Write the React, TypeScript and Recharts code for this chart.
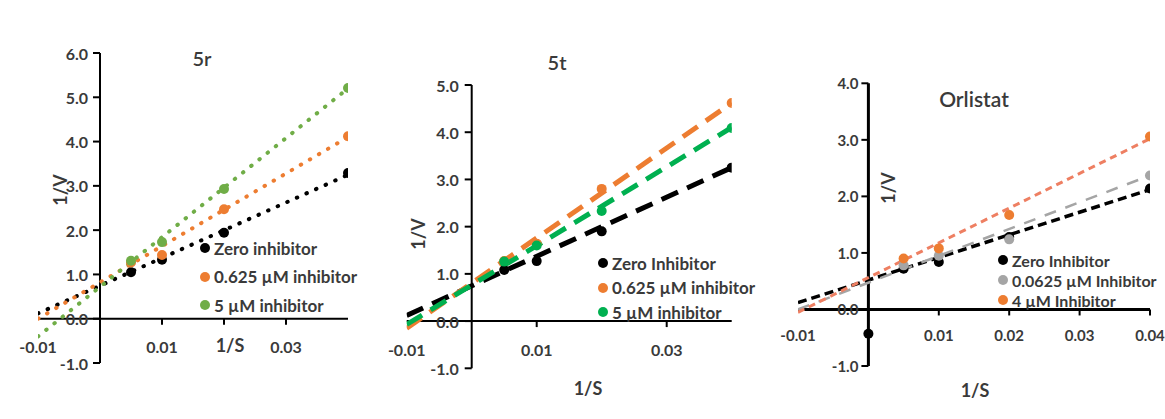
import React from 'react';
import { ComposedChart, Line, Scatter, XAxis, YAxis, ReferenceLine, ReferenceDot, Legend } from 'recharts';

const FONT = 'Lato, "Open Sans", sans-serif';
const TXT = '#3a3a3a';

// ---------- data ----------
const trendX = [-0.01, 0.04];

// 5r
const r5X = [0.005, 0.01, 0.02, 0.04];
const r5Zero = [1.05, 1.33, 1.94, 3.29];
const r5Low = [1.27, 1.44, 2.47, 4.12];
const r5High = [1.31, 1.73, 2.93, 5.21];
const r5ZeroTrend = [0.12, 3.25];
const r5LowTrend = [0.0, 4.1];
const r5HighTrend = [-0.4, 5.2];

// 5t
const t5X = [0.005, 0.01, 0.02, 0.04];
const t5Zero = [1.08, 1.27, 1.9, 3.25];
const t5Low = [1.27, 1.64, 2.8, 4.62];
const t5High = [1.26, 1.6, 2.33, 4.09];
const t5ZeroTrend = [0.12, 3.25];
const t5LowTrend = [-0.15, 4.62];
const t5HighTrend = [-0.07, 4.1];

// Orlistat
const oZeroX = [0, 0.005, 0.01, 0.02, 0.04];
const oZero = [-0.43, 0.72, 0.84, 1.28, 2.14];
const oLowX = [0.005, 0.01, 0.02, 0.04];
const oLow = [0.78, 0.95, 1.24, 2.37];
const oHighX = [0.005, 0.01, 0.02, 0.04];
const oHigh = [0.9, 1.08, 1.67, 3.06];
const oZeroTrend = [0.12, 2.12];
const oLowTrend = [0.0, 2.37];
const oHighTrend = [-0.05, 3.02];

const r5Labels = ['Zero inhibitor', '0.625 µM inhibitor', '5 µM inhibitor'];
const t5Labels = ['Zero Inhibitor', '0.625 µM inhibitor', '5 µM inhibitor'];
const oLabels = ['Zero Inhibitor', '0.0625 µM Inhibitor', '4 µM Inhibitor'];

const r5YTicks = [-1, 0, 1, 2, 3, 4, 5, 6];
const t5YTicks = [-1, 0, 1, 2, 3, 4, 5];
const oYTicks = [-1, 0, 1, 2, 3, 4];
const r5XLabels = [-0.01, 0.01, 0.03];
const t5XLabels = [-0.01, 0.01, 0.03];
const oXLabels = [-0.01, 0.01, 0.02, 0.03, 0.04];
const r5XMarks = [0.01, 0.02, 0.03];
const t5XMarks = [0.01, 0.03];
const oXMarks = [0.01, 0.02, 0.03, 0.04];

const pts = (xs: number[], ys: number[]) => xs.map((x, i) => ({ x, y: ys[i] }));

type Series = {
  name: string;
  color: string;
  lineColor: string;
  points: { x: number; y: number }[];
  trend: { x: number; y: number }[];
  dash: string;
  width: number;
  cap: 'round' | 'butt';
};

type PanelProps = {
  left: number;
  width: number;
  margin: { top: number; left: number; right: number; bottom: number };
  yDomain: [number, number];
  yTicks: number[];
  xLabels: number[];
  xMarks: number[];
  series: Series[];
  axisWidth: number;
  tickFont: number;
  yLabelOff: number;
  xLabelOff: number;
  legendPos: { left: number; top: number; row: number; font: number };
  dotR: number;
};

function Panel(p: PanelProps) {
  const yTickShape = (v: number) => (s: any) => (
    <g>
      <line x1={s.cx - 7} x2={s.cx} y1={s.cy} y2={s.cy} stroke="#000" strokeWidth={2} />
      <text x={s.cx - p.yLabelOff} y={s.cy} textAnchor="end" dominantBaseline="central"
        fontFamily={FONT} fontWeight={700} fontSize={p.tickFont} fill={TXT}>{v.toFixed(1)}</text>
    </g>
  );
  const xMarkShape = () => (s: any) => (
    <line x1={s.cx} x2={s.cx} y1={s.cy} y2={s.cy + 6} stroke="#000" strokeWidth={2} />
  );
  const xLabelShape = (v: number) => (s: any) => (
    <text x={s.cx} y={s.cy + p.xLabelOff} textAnchor="middle" dominantBaseline="central"
      fontFamily={FONT} fontWeight={700} fontSize={p.tickFont} fill={TXT}>{v.toFixed(2)}</text>
  );
  const legendContent = () => (
    <div style={{ fontFamily: FONT, fontWeight: 700, fontSize: p.legendPos.font, color: TXT, whiteSpace: 'nowrap' }}>
      {p.series.map((s) => (
        <div key={s.name} style={{ height: p.legendPos.row, display: 'flex', alignItems: 'center' }}>
          <span style={{ display: 'inline-block', width: 10, height: 10, borderRadius: 5, background: s.color, marginRight: 4 }} />
          {s.name}
        </div>
      ))}
    </div>
  );
  return (
    <div style={{ position: 'absolute', left: p.left, top: 0 }}>
      <ComposedChart width={p.width} height={419} margin={p.margin}>
        <XAxis type="number" dataKey="x" domain={[-0.01, 0.04]} hide allowDataOverflow />
        <YAxis type="number" dataKey="y" domain={p.yDomain} hide allowDataOverflow />
        <ReferenceLine x={0} stroke="#000" strokeWidth={p.axisWidth} />
        <ReferenceLine y={0} stroke="#000" strokeWidth={p.axisWidth} />
        {p.yTicks.map((v) => (
          <ReferenceDot key={'y' + v} x={0} y={v} r={0} shape={yTickShape(v)} />
        ))}
        {p.xMarks.map((v) => (
          <ReferenceDot key={'xm' + v} x={v} y={0} r={0} shape={xMarkShape()} />
        ))}
        {p.xLabels.map((v) => (
          <ReferenceDot key={'xl' + v} x={v} y={0} r={0} shape={xLabelShape(v)} />
        ))}
        {p.series.map((s) => (
          <Line key={'t' + s.name} data={s.trend} dataKey="y" stroke={s.lineColor} strokeWidth={s.width}
            strokeDasharray={s.dash} strokeLinecap={s.cap} dot={false} activeDot={false}
            legendType="none" isAnimationActive={false} />
        ))}
        {p.series.map((s) => (
          <Scatter key={'s' + s.name} name={s.name} data={s.points} dataKey="y" fill={s.color}
            shape={(d: any) => <circle cx={d.cx} cy={d.cy} r={p.dotR} fill={s.color} />}
            isAnimationActive={false} />
        ))}
        <Legend layout="vertical" align="center" verticalAlign="middle" content={legendContent}
          wrapperStyle={{ left: p.legendPos.left, top: p.legendPos.top, width: 'auto', height: 'auto' }} />
      </ComposedChart>
    </div>
  );
}

const Txt = ({ x, y, size, rotate, children, weight }: any) => (
  <div style={{
    position: 'absolute', left: x, top: y, transform: `translate(-50%, -50%)${rotate ? ' rotate(-90deg)' : ''}`,
    fontFamily: FONT, fontWeight: weight ?? 700, fontSize: size, color: TXT, whiteSpace: 'nowrap', lineHeight: 1,
  }}>{children}</div>
);

const ORANGE = '#ED7D31';
const GREEN1 = '#70AD47';
const GREEN2 = '#00B050';
const GREY = '#A5A5A5';

export default function App() {
  const s5r: Series[] = [
    { name: r5Labels[0], color: '#000', lineColor: '#000', points: pts(r5X, r5Zero), trend: pts(trendX, r5ZeroTrend), dash: '0.5 10', width: 4, cap: 'round' },
    { name: r5Labels[1], color: ORANGE, lineColor: ORANGE, points: pts(r5X, r5Low), trend: pts(trendX, r5LowTrend), dash: '0.5 10', width: 4, cap: 'round' },
    { name: r5Labels[2], color: GREEN1, lineColor: GREEN1, points: pts(r5X, r5High), trend: pts(trendX, r5HighTrend), dash: '0.5 10', width: 4, cap: 'round' },
  ];
  const s5t: Series[] = [
    { name: t5Labels[0], color: '#000', lineColor: '#000', points: pts(t5X, t5Zero), trend: pts(trendX, t5ZeroTrend), dash: '18 10', width: 5, cap: 'butt' },
    { name: t5Labels[1], color: ORANGE, lineColor: ORANGE, points: pts(t5X, t5Low), trend: pts(trendX, t5LowTrend), dash: '18 10', width: 5, cap: 'butt' },
    { name: t5Labels[2], color: GREEN2, lineColor: GREEN2, points: pts(t5X, t5High), trend: pts(trendX, t5HighTrend), dash: '18 10', width: 5, cap: 'butt' },
  ];
  const sO: Series[] = [
    { name: oLabels[0], color: '#000', lineColor: '#000', points: pts(oZeroX, oZero), trend: pts(trendX, oZeroTrend), dash: '9 5', width: 3.5, cap: 'butt' },
    { name: oLabels[1], color: GREY, lineColor: GREY, points: pts(oLowX, oLow), trend: pts(trendX, oLowTrend), dash: '12 10', width: 2.5, cap: 'butt' },
    { name: oLabels[2], color: ORANGE, lineColor: '#EE7F62', points: pts(oHighX, oHigh), trend: pts(trendX, oHighTrend), dash: '7 5', width: 3, cap: 'butt' },
  ];
  return (
    <div style={{ position: 'absolute', left: 0, top: 0, width: 1165, height: 419, background: '#fff', overflow: 'hidden' }}>
      <Panel left={0} width={380} margin={{ top: 53, left: 38, right: 32, bottom: 56 }} yDomain={[-1, 6]}
        yTicks={r5YTicks} xLabels={r5XLabels} xMarks={r5XMarks} series={s5r} axisWidth={2} tickFont={16}
        yLabelOff={12} xLabelOff={28} legendPos={{ left: 200, top: 234, row: 28.5, font: 17 }} dotR={5} />
      <Panel left={380} width={380} margin={{ top: 85, left: 26.7, right: 28.3, bottom: 50.7 }} yDomain={[-1, 5]}
        yTicks={t5YTicks} xLabels={t5XLabels} xMarks={t5XMarks} series={s5t} axisWidth={2} tickFont={16}
        yLabelOff={13} xLabelOff={28} legendPos={{ left: 218, top: 251, row: 24.5, font: 17 }} dotR={5} />
      <Panel left={770} width={395} margin={{ top: 83.3, left: 28, right: 15, bottom: 53 }} yDomain={[-1, 4]}
        yTicks={oYTicks} xLabels={oXLabels} xMarks={oXMarks} series={sO} axisWidth={3} tickFont={15}
        yLabelOff={10} xLabelOff={26} legendPos={{ left: 228, top: 250, row: 20, font: 16 }} dotR={5} />

      <Txt x={202} y={58} size={20} weight={600}>5r</Txt>
      <Txt x={557} y={62} size={20} weight={600}>5t</Txt>
      <Txt x={974} y={98} size={21} weight={600}>Orlistat</Txt>

      <Txt x={60} y={190} size={18} rotate>1/V</Txt>
      <Txt x={418} y={234} size={18} rotate>1/V</Txt>
      <Txt x={888} y={188} size={18} rotate>1/V</Txt>

      <Txt x={230} y={345} size={18}>1/S</Txt>
      <Txt x={588} y={388} size={18}>1/S</Txt>
      <Txt x={975} y={390} size={18}>1/S</Txt>
    </div>
  );
}
